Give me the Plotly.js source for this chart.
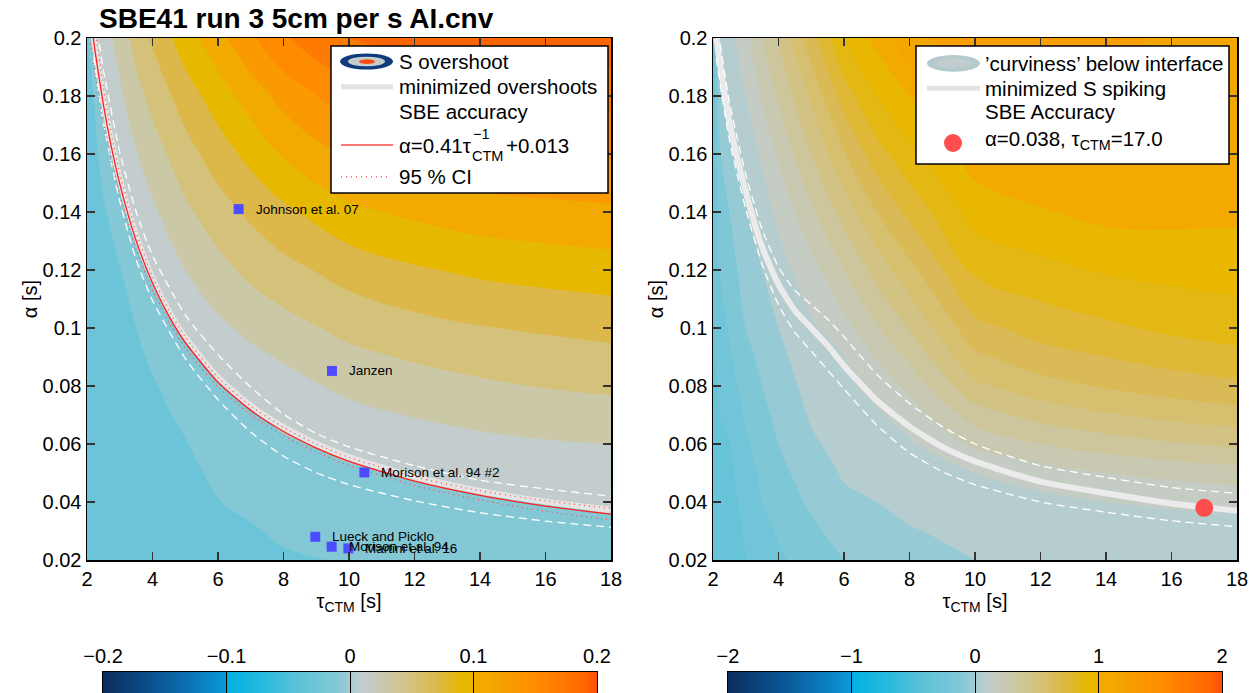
<!DOCTYPE html>
<html><head><meta charset="utf-8">
<script src="https://cdn.plot.ly/plotly-3.0.1.min.js"></script>
<style>html,body{margin:0;padding:0;background:#fff}#chart{width:1258px;height:693px}</style>
</head><body><div id="chart"></div>
<script>
// ---------------- DATA ----------------
const chartTitle = 'SBE41 run 3 5cm per s AI.cnv';
const tauTicks = [2, 4, 6, 8, 10, 12, 14, 16, 18];
const alphaTicks = [0.02, 0.04, 0.06, 0.08, 0.1, 0.12, 0.14, 0.16, 0.18, 0.2];
const cbTicksLeft = [-0.2, -0.1, 0, 0.1, 0.2];
const cbTicksRight = [-2, -1, 0, 1, 2];

// grid of the two fields (one column per tau value)
const tauGrid = [2, 2.2, 2.5, 3, 3.5, 4, 5, 6, 7, 8, 10, 12, 14, 16, 18];
const alphaGrid = [0.02, 0.03, 0.04, 0.05, 0.06, 0.07, 0.08, 0.09, 0.10, 0.12, 0.14, 0.16, 0.18, 0.20];

// S overshoot (left panel), columns = tauGrid, rows = alphaGrid
const zOvershoot = [
  [-0.035,-0.035,-0.035,-0.035,-0.035,-0.035,-0.035,-0.035,-0.035,-0.035,-0.034,-0.033,-0.03,-0.024],
  [-0.035,-0.035,-0.035,-0.035,-0.035,-0.035,-0.035,-0.035,-0.035,-0.033,-0.031,-0.027,-0.02,0.0],
  [-0.035,-0.035,-0.035,-0.035,-0.035,-0.034,-0.034,-0.033,-0.032,-0.029,-0.023,-0.012,0.001,0.012],
  [-0.035,-0.035,-0.035,-0.034,-0.033,-0.032,-0.031,-0.029,-0.027,-0.021,-0.008,0.005,0.017,0.027],
  [-0.035,-0.034,-0.033,-0.032,-0.031,-0.029,-0.027,-0.024,-0.02,-0.007,0.006,0.019,0.033,0.048],
  [-0.034,-0.033,-0.032,-0.030,-0.028,-0.025,-0.022,-0.017,-0.0105,0.0025,0.0165,0.031,0.046,0.063],
  [-0.032,-0.030,-0.028,-0.025,-0.021,-0.0165,-0.0106,-0.0035,0.0033,0.02,0.036,0.052,0.07,0.091],
  [-0.028,-0.025,-0.0205,-0.016,-0.011,-0.006,-0.001,0.007,0.0157,0.0336,0.051,0.07,0.09,0.113],
  [-0.025,-0.0215,-0.0165,-0.0114,-0.0064,-0.0013,0.0066,0.0155,0.025,0.045,0.064,0.086,0.109,0.137],
  [-0.022,-0.0175,-0.0125,-0.0075,-0.0025,0.0043,0.013,0.022,0.0326,0.0537,0.0756,0.102,0.127,0.158],
  [-0.019,-0.0135,-0.0081,-0.0027,0.0049,0.0146,0.0246,0.035,0.0456,0.068,0.095,0.123,0.152,0.18],
  [-0.0145,-0.0095,-0.0045,0.0019,0.0114,0.021,0.0316,0.0422,0.0533,0.0775,0.104,0.132,0.16,0.188],
  [-0.012,-0.007,-0.002,0.0064,0.0155,0.0256,0.0367,0.0478,0.0589,0.084,0.111,0.137,0.163,0.19],
  [-0.0105,-0.005,0.0004,0.0093,0.0182,0.0294,0.041,0.0516,0.0625,0.088,0.114,0.14,0.165,0.192],
  [-0.0095,-0.004,0.0029,0.0119,0.0201,0.0318,0.0438,0.0547,0.0656,0.0913,0.1163,0.142,0.167,0.193]
];

// 'curviness' below interface (right panel), columns = tauGrid, rows = alphaGrid
const zCurviness = [
  [-0.38,-0.38,-0.37,-0.36,-0.35,-0.34,-0.33,-0.32,-0.31,-0.3,-0.29,-0.28,-0.27,-0.25],
  [-0.37,-0.36,-0.35,-0.34,-0.32,-0.3,-0.28,-0.26,-0.24,-0.2,-0.15,-0.11,-0.05,0.01],
  [-0.35,-0.34,-0.33,-0.32,-0.3,-0.271,-0.243,-0.214,-0.189,-0.144,-0.1,-0.033,0.021,0.064],
  [-0.3,-0.29,-0.27,-0.25,-0.214,-0.186,-0.157,-0.129,-0.1,-0.055,-0.005,0.046,0.098,0.164],
  [-0.26,-0.24,-0.2,-0.175,-0.15,-0.125,-0.1,-0.075,-0.05,0.0,0.057,0.114,0.214,0.3],
  [-0.22,-0.186,-0.157,-0.129,-0.1,-0.075,-0.05,-0.025,0.0,0.056,0.122,0.219,0.313,0.41],
  [-0.15,-0.12,-0.083,-0.05,-0.017,0.012,0.035,0.058,0.081,0.166,0.281,0.4,0.518,0.667],
  [-0.1,-0.06,-0.02,0.01,0.04,0.06,0.08,0.099,0.164,0.3,0.44,0.59,0.75,0.9],
  [-0.06,-0.03,0.0,0.03,0.06,0.087,0.13,0.21,0.29,0.44,0.6,0.76,0.9,1.03],
  [-0.03,-0.005,0.02,0.05,0.087,0.14,0.23,0.32,0.41,0.57,0.73,0.87,1.0,1.18],
  [0.0,0.02,0.05,0.1,0.22,0.35,0.48,0.58,0.67,0.82,0.94,1.05,1.16,1.25],
  [0.02,0.04,0.07,0.15,0.3,0.44,0.56,0.66,0.74,0.87,0.99,1.1,1.19,1.25],
  [0.04,0.06,0.1,0.2,0.35,0.49,0.61,0.7,0.78,0.91,1.03,1.11,1.17,1.22],
  [0.05,0.07,0.11,0.23,0.39,0.53,0.65,0.74,0.82,0.93,1.03,1.11,1.15,1.19],
  [0.05,0.07,0.12,0.26,0.42,0.56,0.68,0.77,0.85,0.94,1.02,1.1,1.14,1.16]
];

// left panel curves
const fitTau = [2.1, 2.25, 2.5, 2.75, 3, 3.5, 4, 4.5, 5, 6, 7, 8, 9, 10, 12, 14, 16, 18];
const fitAlpha = [0.2082, 0.1952, 0.177, 0.1621, 0.1497, 0.1301, 0.1155, 0.1041, 0.095, 0.0813, 0.0716, 0.0643, 0.0586, 0.054, 0.0472, 0.0423, 0.0386, 0.0358];
const minOvershootAlpha = [0.21, 0.197, 0.179, 0.164, 0.1515, 0.1318, 0.1172, 0.1058, 0.0967, 0.083, 0.0732, 0.0658, 0.0601, 0.0555, 0.0487, 0.0438, 0.0401, 0.0373];
const ciUpperAlpha = [0.2182, 0.2032, 0.183, 0.1666, 0.1535, 0.1331, 0.118, 0.1062, 0.0969, 0.0829, 0.0731, 0.0657, 0.06, 0.0554, 0.0487, 0.0439, 0.0404, 0.0378];
const ciLowerAlpha = [0.1982, 0.1872, 0.171, 0.1576, 0.1459, 0.1271, 0.113, 0.102, 0.0931, 0.0797, 0.0701, 0.0629, 0.0572, 0.0526, 0.0457, 0.0407, 0.0368, 0.0338];
const accTauL = [2.2, 2.5, 3, 3.5, 4, 5, 6, 7, 8, 9, 10, 12, 14, 16, 18];
const accUpperL = [0.2114, 0.189, 0.1607, 0.1401, 0.125, 0.1045, 0.0908, 0.0796, 0.0703, 0.0636, 0.059, 0.0525, 0.0475, 0.0445, 0.042];
const accLowerL = [0.1934, 0.171, 0.1437, 0.1236, 0.1095, 0.0895, 0.0753, 0.0641, 0.0558, 0.0501, 0.046, 0.0404, 0.0363, 0.0334, 0.0313];

// literature values
const litNames = ['Johnson et al. 07', 'Janzen', 'Morison et al. 94 #2', 'Lueck and Picklo', 'Morison et al. 94', 'Martini et al. 16'];
const litTau = [6.63, 9.48, 10.47, 8.97, 9.47, 9.98];
const litAlpha = [0.141, 0.0852, 0.0502, 0.028, 0.0246, 0.024];

// right panel curves
const spikeTau = [2.1, 2.5, 3, 3.5, 4, 4.5, 5, 5.5, 6, 7, 8, 9, 10, 12, 14, 16, 18];
const spikeAlpha = [0.2, 0.171, 0.147, 0.128, 0.115, 0.106, 0.1, 0.094, 0.087, 0.075, 0.066, 0.059, 0.054, 0.047, 0.043, 0.0395, 0.037];
const accUpperR = [0.207, 0.178, 0.153, 0.134, 0.121, 0.113, 0.108, 0.103, 0.097, 0.084, 0.074, 0.066, 0.06, 0.0525, 0.0485, 0.045, 0.043];
const accLowerR = [0.193, 0.165, 0.141, 0.122, 0.108, 0.0985, 0.092, 0.0855, 0.079, 0.0665, 0.057, 0.0505, 0.046, 0.04, 0.0365, 0.0335, 0.0315];
const bestTau = [17.0];
const bestAlpha = [0.038];

// ---------------- STYLE ----------------
const W = 1258, H = 693;
const px = x => x / W, py = y => 1 - y / H;
const FONT = 'Arial, "Liberation Sans", Helvetica, sans-serif';
const CS = [
  [0, '#0b2d5b'], [0.125, '#0b5c9c'], [0.249, '#0a9ad8'], [0.251, '#00b2e2'],
  [0.33, '#2cbadc'], [0.39, '#5cc2d8'], [0.425, '#6cc4d8'], [0.475, '#84c8d6'],
  [0.5, '#a8ccd2'], [0.525, '#c3cdcd'], [0.575, '#cbc8a8'], [0.625, '#d4c27a'],
  [0.675, '#dcb84a'], [0.725, '#e6b800'], [0.749, '#ecb400'], [0.751, '#f4aa00'],
  [0.775, '#f2aa00'], [0.825, '#f89a00'], [0.875, '#ff8c00'], [0.925, '#ff7a00'],
  [0.975, '#ff6600'], [1, '#ff4a10']
];

const traces = [];
function field(z, ax, zr, size) {
  return {type: 'contour', x: tauGrid, y: alphaGrid, z: z, transpose: true,
    xaxis: ax[0], yaxis: ax[1], colorscale: CS, zmin: -zr, zmax: zr,
    autocontour: false, contours: {start: -zr, end: zr, size: size, coloring: 'fill', showlines: false},
    line: {width: 0, smoothing: 1.3}, showscale: false, hoverinfo: 'skip'};
}
traces.push(field(zOvershoot, ['x', 'y'], 0.2, 0.02));
traces.push(field(zCurviness, ['x2', 'y2'], 2, 0.1));

function line(x, y, ax, color, width, dash) {
  return {type: 'scatter', mode: 'lines', x: x, y: y, xaxis: ax[0], yaxis: ax[1],
    line: {color: color, width: width, dash: dash || 'solid', shape: 'spline', smoothing: 0.6},
    hoverinfo: 'skip'};
}
// left
traces.push(line(fitTau, minOvershootAlpha, ['x', 'y'], '#e4e4e4', 6));
traces.push(line(accTauL, accUpperL, ['x', 'y'], '#ffffff', 1.3, '8px,5px'));
traces.push(line(accTauL, accLowerL, ['x', 'y'], '#ffffff', 1.3, '8px,5px'));
traces.push(line(fitTau, ciUpperAlpha, ['x', 'y'], '#ff4d4d', 1.3, '1px,4px'));
traces.push(line(fitTau, ciLowerAlpha, ['x', 'y'], '#ff4d4d', 1.3, '1px,4px'));
traces.push(line(fitTau, fitAlpha, ['x', 'y'], '#ff1f1f', 1.3));
traces.push({type: 'scatter', mode: 'markers', x: litTau, y: litAlpha, xaxis: 'x', yaxis: 'y',
  marker: {symbol: 'square', size: 10, color: '#4d4dff'}, hoverinfo: 'skip'});
// right
traces.push(line(spikeTau, spikeAlpha, ['x2', 'y2'], '#ebebeb', 6));
traces.push(line(spikeTau, accUpperR, ['x2', 'y2'], '#ffffff', 1.3, '8px,5px'));
traces.push(line(spikeTau, accLowerR, ['x2', 'y2'], '#ffffff', 1.3, '8px,5px'));
traces.push({type: 'scatter', mode: 'markers', x: bestTau, y: bestAlpha, xaxis: 'x2', yaxis: 'y2',
  marker: {symbol: 'circle', size: 18, color: '#ff4d4d'}, hoverinfo: 'skip'});

// colour bars as heatmaps on their own axes
traces.push({type: 'heatmap', x: cbTicksLeft, z: [cbTicksLeft, cbTicksLeft], xaxis: 'x3', yaxis: 'y3',
  colorscale: CS, zmin: -0.2, zmax: 0.2, zsmooth: 'best', showscale: false, hoverinfo: 'skip'});
traces.push({type: 'heatmap', x: cbTicksRight, z: [cbTicksRight, cbTicksRight], xaxis: 'x4', yaxis: 'y4',
  colorscale: CS, zmin: -2, zmax: 2, zsmooth: 'best', showscale: false, hoverinfo: 'skip'});

const tickFont = {family: FONT, size: 20, color: '#000'};
const axBase = {showline: true, linecolor: '#000', linewidth: 1.5, mirror: 'ticks',
  ticks: 'inside', ticklen: 8, tickwidth: 1.2, tickcolor: '#333',
  showgrid: false, zeroline: false, tickfont: tickFont, fixedrange: true};
const xTitle = {text: 'τ<sub>CTM</sub> [s]', standoff: 3, font: {family: FONT, size: 20, color: '#000'}};
const yTitle = {text: 'α [s]', font: {family: FONT, size: 20, color: '#000'}};
const yDom = [py(560), py(38)];

const cbBase = {side: 'top', ticks: 'inside', ticklen: 22, tickwidth: 1, tickcolor: '#000',
  showline: true, linecolor: '#000', linewidth: 1.2, mirror: true, showgrid: false, zeroline: false,
  tickfont: tickFont, fixedrange: true};
const cbY = {domain: [0, py(672)], range: [-0.5, 1.5], showline: true, mirror: true, linecolor: '#000',
  linewidth: 1.2, showticklabels: false, ticks: '', showgrid: false, zeroline: false, fixedrange: true};

// legends (boxes, icons and texts)
const shapes = [], annotations = [];
const LEG = 20.5;
function rect(x0, y0, x1, y1) {
  shapes.push({type: 'rect', xref: 'paper', yref: 'paper', x0: px(x0), x1: px(x1), y0: py(y1), y1: py(y0),
    fillcolor: '#ffffff', line: {color: '#000', width: 1.5}, layer: 'above'});
}
function ell(x0, y0, x1, y1, c) {
  shapes.push({type: 'circle', xref: 'paper', yref: 'paper', x0: px(x0), x1: px(x1), y0: py(y1), y1: py(y0),
    fillcolor: c, line: {width: 0}, layer: 'above'});
}
function seg(x0, x1, y, c, w, dash) {
  shapes.push({type: 'line', xref: 'paper', yref: 'paper', x0: px(x0), x1: px(x1), y0: py(y), y1: py(y),
    line: {color: c, width: w, dash: dash || 'solid'}, layer: 'above'});
}
function txt(x, y, t, size) {
  annotations.push({xref: 'paper', yref: 'paper', x: px(x), y: py(y), text: t, showarrow: false,
    xanchor: 'left', yanchor: 'middle', font: {family: FONT, size: size || LEG, color: '#000'}});
}
// left legend
rect(331, 46, 608, 193);
ell(340, 53.5, 393, 69.5, '#103c7c');
ell(348, 56.7, 385, 66.3, '#c5cdcd');
ell(359, 59.3, 375, 64, '#ff4c10');
seg(341, 393, 86.7, '#e3e3e3', 5);
seg(341, 393, 145, '#ff4d4d', 1.5);
seg(341, 391, 176.7, '#ff6060', 1.5, '1px,4px');
txt(397, 61.7, 'S overshoot');
txt(397, 86.7, 'minimized overshoots');
txt(397, 111.7, 'SBE accuracy');
txt(397, 145, 'α=0.41τ');
txt(471, 134, '−1', 14.5);
txt(470, 156, 'CTM', 14.5);
txt(504, 145, '+0.013');
txt(397, 176.7, '95 % CI');
// right legend
rect(916, 46, 1229, 164);
ell(927, 55, 980, 71.7, '#b5cacd');
ell(936, 58.5, 971, 68, '#c1cdcd');
seg(927, 980, 88.3, '#e3e3e3', 5);
ell(944, 134, 962, 152, '#ff4d4d');
txt(983, 63.3, '’curviness’ below interface');
txt(983, 88.3, 'minimized S spiking');
txt(983, 111.7, 'SBE Accuracy');
txt(983, 140, 'α=' + bestAlpha[0].toFixed(3) + ', τ<sub>CTM</sub>=' + bestTau[0].toFixed(1));

// literature labels
litNames.forEach((n, i) => {
  annotations.push({xref: 'x', yref: 'y', x: litTau[i], y: litAlpha[i], text: n, showarrow: false,
    xanchor: 'left', yanchor: 'middle', xshift: 15, font: {family: FONT, size: 13.5, color: '#000'}});
});

const layout = {
  width: W, height: H, margin: {l: 0, r: 0, t: 0, b: 0, autoexpand: false},
  paper_bgcolor: '#fff', plot_bgcolor: '#fff', showlegend: false, hovermode: false,
  title: {text: '<b>' + chartTitle + '</b>', x: px(99), xanchor: 'left', xref: 'paper',
    y: py(18), yanchor: 'middle', yref: 'container', font: {family: FONT, size: 28, color: '#000'}},
  xaxis: Object.assign({}, axBase, {domain: [px(87), px(611)], range: [2, 18], tickvals: tauTicks, anchor: 'y', title: xTitle, automargin: true}),
  yaxis: Object.assign({}, axBase, {domain: yDom, range: [0.02, 0.2], tickvals: alphaTicks, anchor: 'x', title: yTitle}),
  xaxis2: Object.assign({}, axBase, {domain: [px(713), px(1237)], range: [2, 18], tickvals: tauTicks, anchor: 'y2', title: xTitle, automargin: true}),
  yaxis2: Object.assign({}, axBase, {domain: yDom, range: [0.02, 0.2], tickvals: alphaTicks, anchor: 'x2', title: yTitle}),
  xaxis3: Object.assign({}, cbBase, {domain: [px(103), px(597)], range: [-0.2, 0.2], tickvals: cbTicksLeft, anchor: 'y3'}),
  yaxis3: Object.assign({}, cbY, {anchor: 'x3'}),
  xaxis4: Object.assign({}, cbBase, {domain: [px(728), px(1222)], range: [-2, 2], tickvals: cbTicksRight, anchor: 'y4'}),
  yaxis4: Object.assign({}, cbY, {anchor: 'x4'}),
  shapes: shapes, annotations: annotations
};
Plotly.newPlot('chart', traces, layout, {displayModeBar: false, staticPlot: true});
</script></body></html>
